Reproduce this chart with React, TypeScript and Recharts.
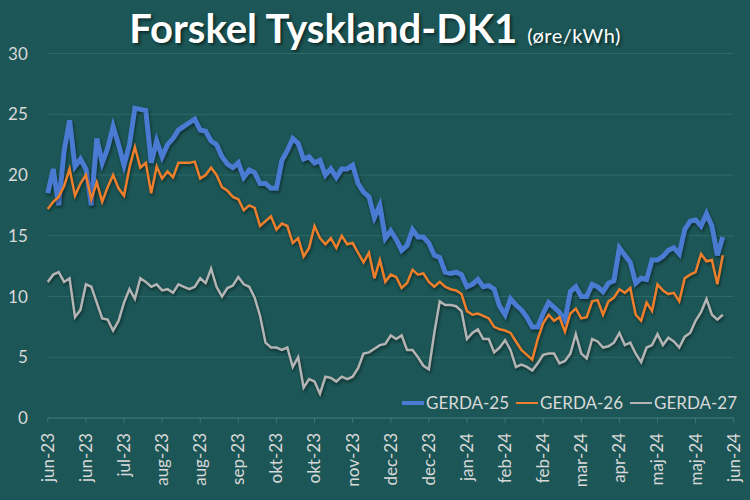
import { LineChart, Line, XAxis, YAxis, CartesianGrid, Legend } from 'recharts';

// GERDA forward prices, sampled every 3 days from 1 jun 2023
const gerda25 = [
  18.5, 20.5, 17.5, 22.0, 24.5, 20.7, 21.3, 20.5, 17.5, 23.0, 21.0, 22.2, 24.0, 22.5, 20.8, 22.5,
  25.5, 25.4, 25.3, 21.0, 22.8, 21.5, 22.5, 23.0, 23.7, 24.0, 24.3, 24.6, 23.7, 23.6, 22.8, 22.5,
  21.5, 20.9, 20.6, 21.0, 19.8, 20.4, 20.2, 19.3, 19.3, 18.9, 18.9, 21.2, 22.0, 23.0, 22.6, 21.3,
  21.5, 21.0, 21.2, 20.0, 20.5, 19.8, 20.5, 20.5, 20.8, 19.3, 18.6, 18.2, 16.5, 17.5, 14.8, 15.4,
  14.7, 13.8, 14.2, 15.5, 14.9, 14.9, 14.4, 13.4, 13.2, 12.0, 11.9, 12.0, 11.8, 10.8, 11.0, 11.4,
  10.8, 10.9, 10.6, 9.2, 8.5, 9.8, 9.3, 8.9, 8.3, 7.5, 7.5, 8.6, 9.5, 9.1, 8.7, 8.0,
  10.4, 10.8, 10.0, 10.0, 11.0, 10.8, 10.4, 11.1, 11.3, 14.0, 13.4, 12.8, 11.1, 11.5, 11.4, 13.0,
  13.0, 13.3, 13.8, 14.0, 13.5, 15.5, 16.2, 16.3, 15.8, 16.8, 15.8, 13.4, 14.9,
];

const gerda26 = [
  17.2, 17.8, 18.2, 19.1, 20.5, 18.3, 19.3, 20.0, 18.0, 19.4, 17.8, 19.0, 20.0, 18.9, 18.3, 20.6,
  22.3, 20.6, 21.0, 18.5, 20.7, 19.7, 20.3, 19.8, 21.0, 21.0, 21.0, 21.1, 19.7, 20.0, 20.6, 20.0,
  19.0, 18.7, 18.2, 18.0, 17.1, 17.5, 17.3, 15.8, 16.2, 16.6, 15.5, 16.0, 15.8, 14.4, 14.8, 13.3,
  14.0, 15.8, 14.8, 14.3, 14.8, 14.0, 15.0, 14.3, 14.4, 13.6, 12.8, 13.6, 11.5, 13.0, 11.2, 11.8,
  11.6, 10.7, 11.1, 12.2, 11.8, 11.9, 11.2, 10.8, 11.2, 10.8, 10.6, 10.5, 10.2, 8.8, 8.5, 8.6,
  8.4, 8.2, 7.5, 7.3, 7.2, 7.0, 6.3, 5.6, 5.2, 4.8, 6.5, 7.8, 8.5, 8.0, 8.3, 7.1,
  8.6, 9.0, 8.2, 8.3, 9.6, 9.7, 8.5, 9.6, 9.9, 10.6, 10.3, 10.7, 8.5, 8.0, 9.5, 8.8,
  11.0, 10.5, 10.2, 10.3, 9.6, 11.5, 11.8, 12.0, 13.5, 12.9, 13.0, 11.0, 13.4,
];

const gerda27 = [
  11.2, 11.8, 12.0, 11.2, 11.5, 8.3, 8.9, 11.0, 10.8, 9.5, 8.2, 8.1, 7.2, 8.0, 9.5, 10.6,
  9.8, 11.5, 11.2, 10.8, 11.0, 10.5, 10.6, 10.3, 11.0, 10.8, 10.6, 10.8, 11.5, 11.1, 12.3, 10.8,
  10.0, 10.7, 10.9, 11.6, 11.0, 10.8, 9.9, 8.4, 6.2, 5.8, 5.8, 5.6, 5.8, 4.2, 5.0, 2.5,
  3.2, 3.0, 2.0, 3.4, 3.3, 3.0, 3.4, 3.2, 3.4, 4.1, 5.3, 5.4, 5.7, 6.0, 6.1, 6.8,
  6.5, 6.8, 5.6, 5.6, 5.0, 4.3, 4.0, 7.0, 9.6, 9.3, 9.3, 9.2, 8.8, 6.5, 7.0, 7.3,
  6.5, 6.5, 5.4, 5.8, 6.4, 5.6, 4.2, 4.4, 4.2, 3.9, 4.5, 5.2, 5.3, 5.3, 4.5, 4.7,
  5.3, 6.9, 5.3, 4.9, 6.5, 6.3, 5.8, 5.9, 6.2, 7.0, 6.0, 6.2, 5.3, 4.6, 5.8, 6.0,
  6.9, 6.0, 6.6, 6.3, 5.8, 6.7, 7.0, 8.0, 8.7, 9.8, 8.5, 8.1, 8.5,
];

// days since 1 jun 2023 where the axis has a label (21 day major unit)
const tickDays = [0, 21, 42, 63, 84, 105, 126, 147, 168, 189, 210, 231, 252, 273, 294, 315, 336, 357, 378];
const tickLabels = [
  'jun-23', 'jun-23', 'jul-23', 'aug-23', 'aug-23', 'sep-23', 'okt-23', 'okt-23', 'nov-23', 'dec-23',
  'dec-23', 'jan-24', 'feb-24', 'feb-24', 'mar-24', 'apr-24', 'maj-24', 'maj-24', 'jun-24',
];
const yTicks = [0, 5, 10, 15, 20, 25, 30];

const data = gerda25.map((v, i) => ({ day: i * 3, g25: v, g26: gerda26[i], g27: gerda27[i] }));

const FONT = 'Lato, "Open Sans", sans-serif';
const TEXT = '#d9d9d9';

const series = [
  { key: 'g25', name: 'GERDA-25', color: '#4a7bd2', width: 5 },
  { key: 'g26', name: 'GERDA-26', color: '#f07f2c', width: 2.5 },
  { key: 'g27', name: 'GERDA-27', color: '#b4b4b4', width: 2.5 },
];

const XTick = ({ x, y, payload }: any) => {
  const label = tickLabels[tickDays.indexOf(payload.value)] ?? '';
  return (
    <text
      x={x}
      y={y + 8}
      transform={`rotate(-90, ${x}, ${y + 8})`}
      textAnchor="end"
      dy="0.35em"
      fill={TEXT}
      fontSize={17}
      fontFamily={FONT}
    >
      {label}
    </text>
  );
};

const renderLegend = () => (
  <div style={{ display: 'flex', alignItems: 'center', fontFamily: FONT, fontSize: 17, color: TEXT }}>
    {series.map((s) => (
      <div key={s.key} style={{ display: 'flex', alignItems: 'center', marginRight: 7 }}>
        <span
          style={{
            display: 'inline-block',
            width: 22,
            height: s.width === 5 ? 4 : 2,
            background: s.color,
            marginRight: 2,
          }}
        />
        <span>{s.name}</span>
      </div>
    ))}
  </div>
);

export default function App() {
  return (
    <div style={{ position: 'absolute', left: 0, top: 0, width: 750, height: 500, background: '#1c5656' }}>
      <style>{`.recharts-line-curve{filter:drop-shadow(1px 2px 1.5px rgba(0,0,0,0.45));}`}</style>
      <div
        style={{
          position: 'absolute',
          left: 0,
          top: 4,
          width: 750,
          textAlign: 'center',
          color: '#ffffff',
          fontFamily: FONT,
          whiteSpace: 'nowrap',
          textShadow: '2px 2px 3px rgba(0,0,0,0.5)',
        }}
      >
        <span style={{ fontSize: 40, fontWeight: 700 }}>Forskel Tyskland-DK1</span>
        <span style={{ fontSize: 20, marginLeft: 10, letterSpacing: 0.5 }}>(øre/kWh)</span>
      </div>
      <LineChart
        width={750}
        height={500}
        data={data}
        margin={{ top: 53.5, right: 16.3, bottom: 0, left: 0 }}
      >
        <CartesianGrid vertical={false} stroke="#2f6a6a" strokeWidth={1} />
        <XAxis
          dataKey="day"
          type="number"
          domain={[0, 378]}
          ticks={tickDays}
          interval={0}
          height={82}
          axisLine={{ stroke: '#3d7777' }}
          tickLine={{ stroke: '#3d7777' }}
          tickSize={5}
          tick={<XTick />}
        />
        <YAxis
          domain={[0, 30]}
          ticks={yTicks}
          width={47.8}
          axisLine={false}
          tickLine={false}
          tickSize={0}
          tickMargin={20}
          tick={{ fill: TEXT, fontSize: 17, fontFamily: FONT }}
        />
        <Legend
          content={renderLegend}
          wrapperStyle={{ position: 'absolute', left: 402, top: 392, width: 350, height: 0, overflow: 'visible' }}
        />
        {series.map((s) => (
          <Line
            key={s.key}
            dataKey={s.key}
            name={s.name}
            type="linear"
            stroke={s.color}
            strokeWidth={s.width}
            dot={false}
            activeDot={false}
            isAnimationActive={false}
          />
        ))}
      </LineChart>
    </div>
  );
}
